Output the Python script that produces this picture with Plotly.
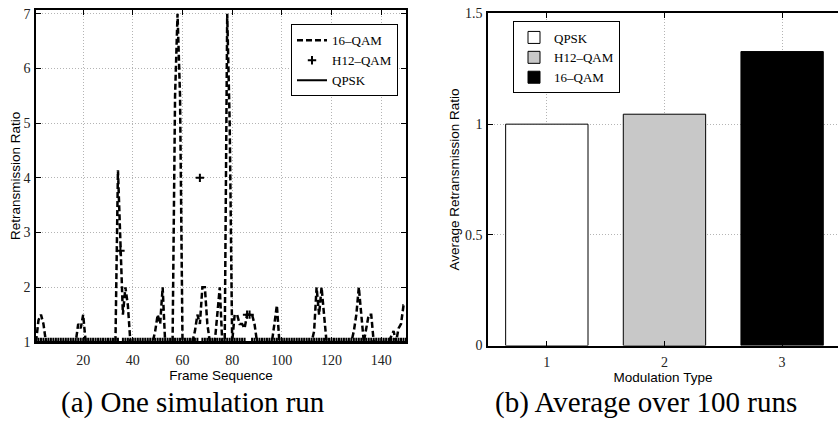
import plotly.graph_objects as go

# ---------------- data ----------------
frames = list(range(1, 151))

qam16 = [
    1, 1.4, 1.5, 1.33, 1, 1, 1, 1, 1, 1,
    1, 1, 1, 1, 1, 1, 1, 1.33, 1.25, 1.5,
    1, 1, 1, 1, 1, 1, 1, 1, 1, 1,
    1, 1, 1, 4.14, 2.67, 1.5, 2, 1.67, 1, 1,
    1, 1, 1, 1, 1, 1, 1, 1, 1.2, 1.5,
    1.33, 2, 1, 1, 1, 1, 5.5, 7, 5.5, 1,
    1, 1, 1, 1, 1.2, 1.5, 1.33, 2, 2, 1.33,
    1, 1, 1, 1.5, 2, 1, 1, 7, 5, 1,
    1.5, 1.5, 1.33, 1.33, 1.25, 1.5, 1.5, 1.5, 1.33, 1,
    1, 1, 1, 1, 1, 1, 1.33, 1.67, 1, 1,
    1, 1, 1, 1, 1, 1, 1, 1, 1, 1,
    1, 1, 1.2, 2, 1.5, 2, 1.5, 1, 1, 1,
    1, 1, 1, 1, 1, 1, 1, 1, 1.2, 1.5,
    2, 1.5, 1, 1.25, 1.5, 1.5, 1, 1, 1, 1,
    1, 1, 1, 1.1, 1.2, 1, 1.25, 1.33, 1.67, 1.67,
]

h12qam = [
    1, 1, 1, 1, 1, 1, 1, 1, 1, 1,
    1, 1, 1, 1, 1, 1, 1, 1, 1, 1,
    1, 1, 1, 1, 1, 1, 1, 1, 1, 1,
    1, 1, 1, 1, 2.67, 1, 1, 1, 1, 1,
    1, 1, 1, 1, 1, 1, 1, 1, 1, 1,
    1, 1, 1, 1, 1, 1, 1, 1, 1, 1,
    1, 1, 1, 1, 1, 1, 4, 1, 1, 1,
    1, 1, 1, 1, 1, 1, 1, 1, 1, 1,
    1, 1, 1, 1, 1, 1.5, 1.5, 1, 1, 1,
    1, 1, 1, 1, 1, 1, 1, 1, 1, 1,
    1, 1, 1, 1, 1, 1, 1, 1, 1, 1,
    1, 1, 1, 1, 1, 1, 1, 1, 1, 1,
    1, 1, 1, 1, 1, 1, 1, 1, 1, 1,
    1, 1, 1, 1, 1, 1, 1, 1, 1, 1,
    1, 1, 1, 1, 1, 1, 1, 1, 1, 1,
]

qpsk = [
    1, 1, 1, 1, 1, 1, 1, 1, 1, 1,
    1, 1, 1, 1, 1, 1, 1, 1, 1, 1,
    1, 1, 1, 1, 1, 1, 1, 1, 1, 1,
    1, 1, 1, 1, 1, 1, 1, 1, 1, 1,
    1, 1, 1, 1, 1, 1, 1, 1, 1, 1,
    1, 1, 1, 1, 1, 1, 1, 1, 1, 1,
    1, 1, 1, 1, 1, 1, 1, 1, 1, 1,
    1, 1, 1, 1, 1, 1, 1, 1, 1, 1,
    1, 1, 1, 1, 1, 1, 1, 1, 1, 1,
    1, 1, 1, 1, 1, 1, 1, 1, 1, 1,
    1, 1, 1, 1, 1, 1, 1, 1, 1, 1,
    1, 1, 1, 1, 1, 1, 1, 1, 1, 1,
    1, 1, 1, 1, 1, 1, 1, 1, 1, 1,
    1, 1, 1, 1, 1, 1, 1, 1, 1, 1,
    1, 1, 1, 1, 1, 1, 1, 1, 1, 1,
]

left_xticks = [20, 40, 60, 80, 100, 120, 140]
left_yticks = [1, 2, 3, 4, 5, 6, 7]

mod_names = ["QPSK", "H12\u2013QAM", "16\u2013QAM"]
mod_types = [1, 2, 3]
avg_ratio = [1.0, 1.045, 1.328]
bar_colors = ["#ffffff", "#c8c8c8", "#000000"]
right_yticks = [0, 0.5, 1, 1.5]
right_yticklabels = ["0", "0.5", "1", "1.5"]

caption_a = "(a) One simulation run"
caption_b = "(b) Average over 100 runs"

# ---------------- figure ----------------
W, H = 838, 434
SERIF = "Liberation Serif"
SANS = "Liberation Sans"

fig = go.Figure()

fig.add_trace(go.Scatter(
    x=frames, y=qam16, mode="lines", name="16\u2013QAM",
    line=dict(color="black", width=2.5, dash="6px,3px"),
    xaxis="x", yaxis="y", legend="legend",
))
fig.add_trace(go.Scatter(
    x=frames, y=h12qam, mode="markers", name="H12\u2013QAM",
    marker=dict(symbol="cross-thin", size=6, color="black",
                line=dict(color="black", width=2)),
    xaxis="x", yaxis="y", legend="legend",
))
fig.add_trace(go.Scatter(
    x=frames, y=qpsk, mode="lines", name="QPSK",
    line=dict(color="black", width=2),
    xaxis="x", yaxis="y", legend="legend",
))

for name, xv, yv, col in zip(mod_names, mod_types, avg_ratio, bar_colors):
    fig.add_trace(go.Bar(
        x=[xv], y=[yv], name=name, width=0.7,
        marker=dict(color=col, line=dict(color="black", width=1)),
        xaxis="x2", yaxis="y2", legend="legend2",
    ))

axis_common = dict(
    showgrid=True, gridcolor="#b4b4b4", griddash="1px,2px", gridwidth=1,
    ticks="inside", ticklen=5, tickcolor="black", tickwidth=1,
    showline=True, linecolor="black", linewidth=1.5,
    zeroline=False, ticklabeloverflow="allow",
    tickfont=dict(family=SERIF, size=14, color="#222"),
)

def px_x(p):
    return p / W

def px_y(p):
    return 1 - p / H

title_font = dict(family=SANS, size=13.5, color="black")

fig.update_layout(
    width=W, height=H,
    margin=dict(l=0, r=0, t=0, b=0),
    paper_bgcolor="white", plot_bgcolor="white",
    barmode="overlay",
    showlegend=True,
    xaxis=dict(
        axis_common, domain=[px_x(36), px_x(406)], range=[1, 150],
        tickvals=left_xticks, mirror="ticks", anchor="y", ticklabelstandoff=4,
        title=dict(text="Frame Sequence", font=title_font, standoff=3),
    ),
    yaxis=dict(
        axis_common, domain=[px_y(347), px_y(3)], range=[1, 7.07],
        tickvals=left_yticks, mirror="ticks", anchor="x", ticklabelstandoff=1,
        title=dict(text="Retransmission Ratio", font=title_font, standoff=0),
    ),
    xaxis2=dict(
        axis_common, domain=[px_x(488), 1.0], range=[0.5, 3.475],
        tickvals=mod_types, mirror="ticks", anchor="y2", ticklabelstandoff=3,
        title=dict(text="Modulation Type", font=title_font, standoff=1),
    ),
    yaxis2=dict(
        axis_common, domain=[px_y(350.7), px_y(6.7)], range=[0, 1.5],
        tickvals=right_yticks, ticktext=right_yticklabels, mirror=False, anchor="x2",
        ticklabelstandoff=1,
        title=dict(text="Average Retransmission Ratio", font=title_font, standoff=2),
    ),
    legend=dict(
        x=px_x(291), y=px_y(18), xanchor="left", yanchor="top",
        bgcolor="white", bordercolor="black", borderwidth=1,
        font=dict(family=SERIF, size=13, color="black"),
        traceorder="normal", itemwidth=30,
    ),
    legend2=dict(
        x=px_x(513), y=px_y(15), xanchor="left", yanchor="top",
        bgcolor="white", bordercolor="black", borderwidth=1,
        font=dict(family=SERIF, size=13, color="black"),
        traceorder="normal", itemwidth=30,
    ),
    annotations=[
        dict(text=caption_a, x=px_x(193), y=px_y(410), xref="paper", yref="paper",
             xanchor="center", yanchor="middle", showarrow=False,
             font=dict(family=SERIF, size=29, color="black")),
        dict(text=caption_b, x=px_x(646), y=px_y(410), xref="paper", yref="paper",
             xanchor="center", yanchor="middle", showarrow=False,
             font=dict(family=SERIF, size=29, color="black")),
    ],
)

fig.write_html("out.html")
